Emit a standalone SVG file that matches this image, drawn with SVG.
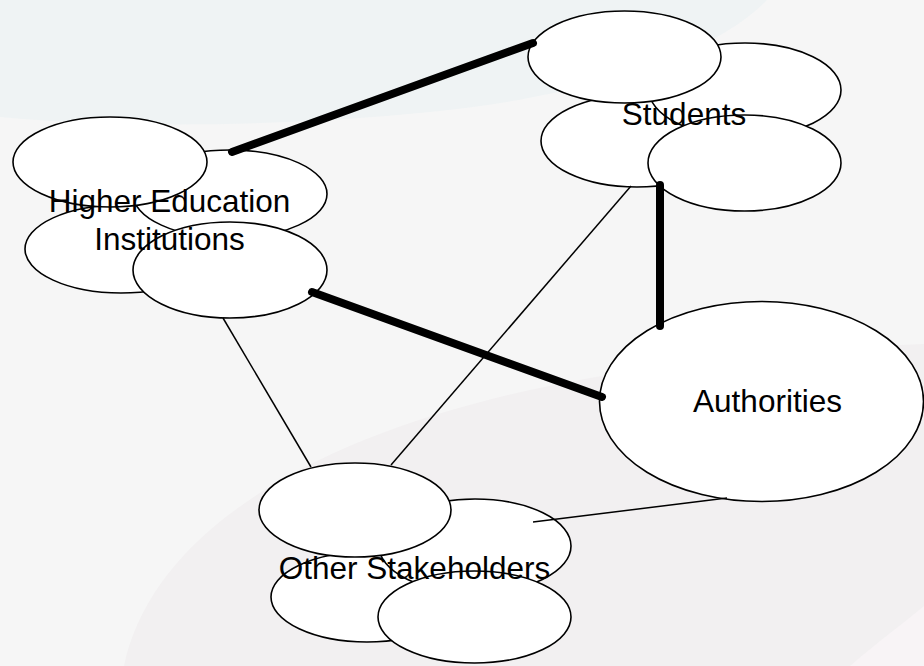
<svg xmlns="http://www.w3.org/2000/svg" width="924" height="666" viewBox="0 0 924 666">
<style>
.bg{fill:#f6f6f6}
.e{fill:#ffffff;stroke:#000000;stroke-width:1.6}
.thick{stroke:#000000;stroke-width:8;stroke-linecap:round;fill:none}
.thin{stroke:#000000;stroke-width:1.5;fill:none}
.t{font-family:"Liberation Sans",Arial,sans-serif;font-size:31.5px;fill:#000000;text-anchor:middle}
</style>
<g id="background">
<rect class="bg" x="0" y="0" width="924" height="666"/>
<path d="M0,0 H767 C720,50 600,95 430,112 C280,127 120,128 0,117 Z" fill="#eff3f4"/>
<path d="M124,666 C150,540 300,430 590,378 C700,358 830,348 924,344 V666 Z" fill="#f2f0f1"/>
<path d="M850,666 C880,640 905,622 924,606 V666 Z" fill="#f8f4f6"/>
</g>
<g id="hei">
<ellipse class="e" cx="121" cy="249" rx="96" ry="44"/>
<ellipse class="e" cx="230" cy="194" rx="97" ry="44"/>
<ellipse class="e" cx="110" cy="162" rx="97" ry="45"/>
<ellipse class="e" cx="230" cy="270" rx="97" ry="48"/>
<text class="t" x="169.5" y="212">Higher Education</text>
<text class="t" x="169.5" y="250">Institutions</text>
</g>
<g id="students">
<ellipse class="e" cx="637" cy="141" rx="96" ry="46"/>
<ellipse class="e" cx="745" cy="90" rx="96" ry="47"/>
<ellipse class="e" cx="624.5" cy="57" rx="96.5" ry="46"/>
<ellipse class="e" cx="744.5" cy="163" rx="96.5" ry="48"/>
<text class="t" x="684" y="125">Students</text>
</g>
<g id="authorities">
<ellipse class="e" cx="761.5" cy="401.5" rx="162" ry="100"/>
<text class="t" x="767.5" y="412">Authorities</text>
</g>
<g id="other">
<ellipse class="e" cx="367" cy="597" rx="96" ry="45"/>
<ellipse class="e" cx="475" cy="546" rx="96" ry="47"/>
<ellipse class="e" cx="355" cy="510" rx="96" ry="47"/>
<ellipse class="e" cx="474.5" cy="617" rx="96.5" ry="46"/>
<text class="t" x="414.5" y="579">Other Stakeholders</text>
</g>
<g id="connectors">
<line class="thick" x1="232" y1="152" x2="533" y2="43"/>
<line class="thick" x1="312" y1="292" x2="602" y2="397"/>
<line class="thick" x1="660" y1="185" x2="660" y2="326"/>
<line class="thin" x1="223" y1="318" x2="311" y2="467"/>
<line class="thin" x1="631" y1="186" x2="391" y2="465"/>
<line class="thin" x1="727" y1="498" x2="533" y2="522"/>
</g>
</svg>
